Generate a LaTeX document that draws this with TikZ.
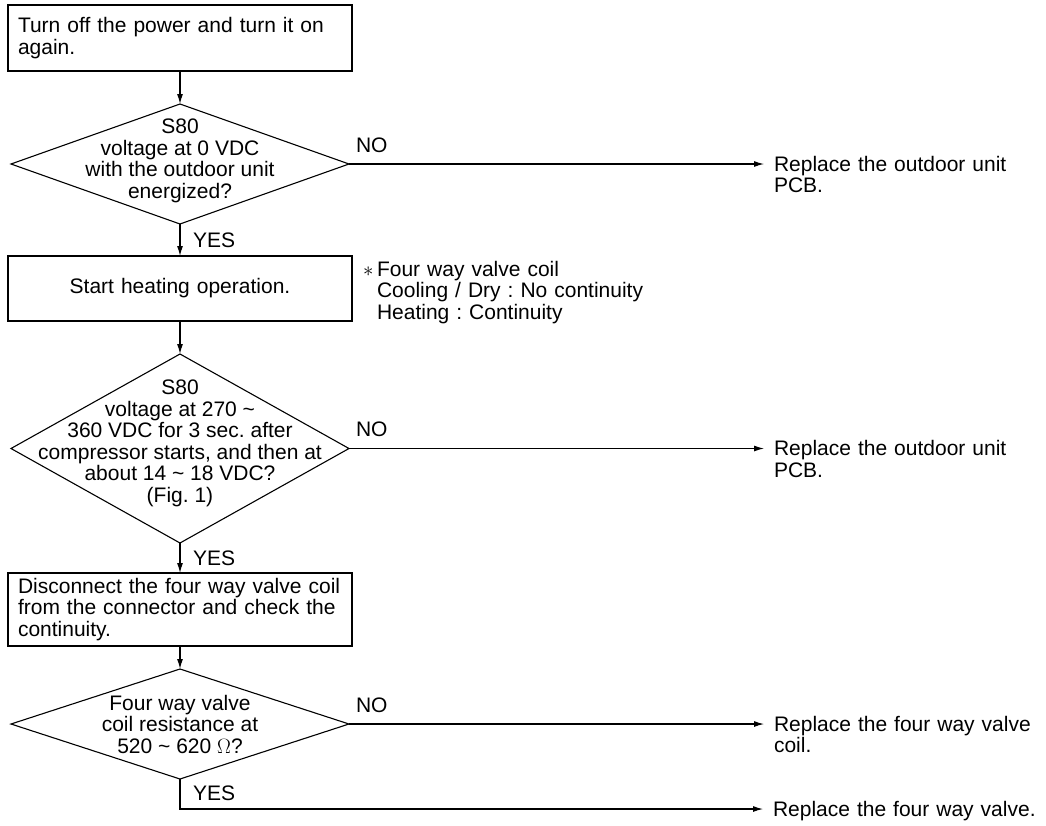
\documentclass[tikz,border=0pt]{standalone}
\usepackage{fontspec}
\setmainfont{Liberation Sans}
\usetikzlibrary{shapes.geometric,positioning,arrows.meta}
\frenchspacing
\begin{document}
\begin{tikzpicture}[x=1pt,y=1pt,line width=1.1pt,every node/.style={inner sep=0pt,outer sep=0pt,font=\fontsize{21}{21.5}\selectfont}]
\tikzstyle{arrow}=[draw,-{Latex[length=10pt,width=6pt]}]
\tikzstyle{box}=[draw,minimum width=344pt,text width=324pt,align=left]
\tikzstyle{decision}=[draw,diamond,minimum width=338pt]
\tikzstyle{txt}=[align=center]
\tikzstyle{result}=[anchor=base west,text width=300pt,align=left]
\tikzstyle{lbl}=[anchor=base west]
\useasboundingbox (0,0) rectangle (1046,-825);

\node[box,minimum height=66pt](n0) at (180,-38){Turn off the power and turn it on\\again.};
\node[decision,minimum height=120pt,below=33pt of n0](n1){};
\node[txt](t1) at ([yshift=3pt]n1){S80\\voltage at 0 VDC\\with the outdoor unit\\energized?};
\node[box,minimum height=65pt,align=center,below=32pt of n1](n2){Start heating operation.};
\node[decision,minimum height=189pt,below=33pt of n2](n3){};
\node[txt](t3) at ([yshift=5pt]n3){S80\\voltage at 270 \textasciitilde\\360 VDC for 3 sec. after\\compressor starts, and then at\\about 14 \textasciitilde{} 18 VDC?\\(Fig. 1)};
\node[box,minimum height=73pt,below=30pt of n3](n4){Disconnect the four way valve coil\\from the connector and check the\\continuity.};
\node[decision,minimum height=110pt,below=23pt of n4](n5){};
\node[txt](t5) at (n5){Four way valve\\coil resistance at\\520 \textasciitilde{} 620 $\Omega$?};

\node[lbl,text width=300pt](note) at ([shift={(25pt,-20pt)}]n2.north east){\llap{$\ast$\,}Four way valve coil\\Cooling / Dry : No continuity\\Heating : Continuity};

\node[result](r1) at ([shift={(425pt,-7pt)}]n1.east){Replace the outdoor unit\\PCB.};
\node[result](r3) at ([shift={(425pt,-7pt)}]n3.east){Replace the outdoor unit\\PCB.};
\node[result](r5) at ([shift={(425pt,-7pt)}]n5.east){Replace the four way valve\\coil.};
\node[result](r6) at ([shift={(593pt,-37pt)}]n5.south){Replace the four way valve.};

\node[lbl](no1) at ([shift={(7pt,12pt)}]n1.east){NO};
\node[lbl](no3) at ([shift={(7pt,12pt)}]n3.east){NO};
\node[lbl](no5) at ([shift={(7pt,12pt)}]n5.east){NO};
\node[lbl](yes1) at ([shift={(13pt,-23pt)}]n1.south){YES};
\node[lbl](yes3) at ([shift={(13pt,-22pt)}]n3.south){YES};
\node[lbl](yes5) at ([shift={(13pt,-21pt)}]n5.south){YES};

\draw[arrow] (n0) -- (n1);
\draw[arrow] (n1) -- (n2);
\draw[arrow] (n2) -- (n3);
\draw[arrow] (n3) -- (n4);
\draw[arrow] (n4) -- (n5);
\draw[arrow] (n1.east) -- ([shift={(-10pt,7pt)}]r1.base west);
\draw[arrow] (n3.east) -- ([shift={(-10pt,7pt)}]r3.base west);
\draw[arrow] (n5.east) -- ([shift={(-10pt,7pt)}]r5.base west);
\draw[arrow] (n5.south) |- ([shift={(-10pt,7pt)}]r6.base west);
\end{tikzpicture}
\end{document}
